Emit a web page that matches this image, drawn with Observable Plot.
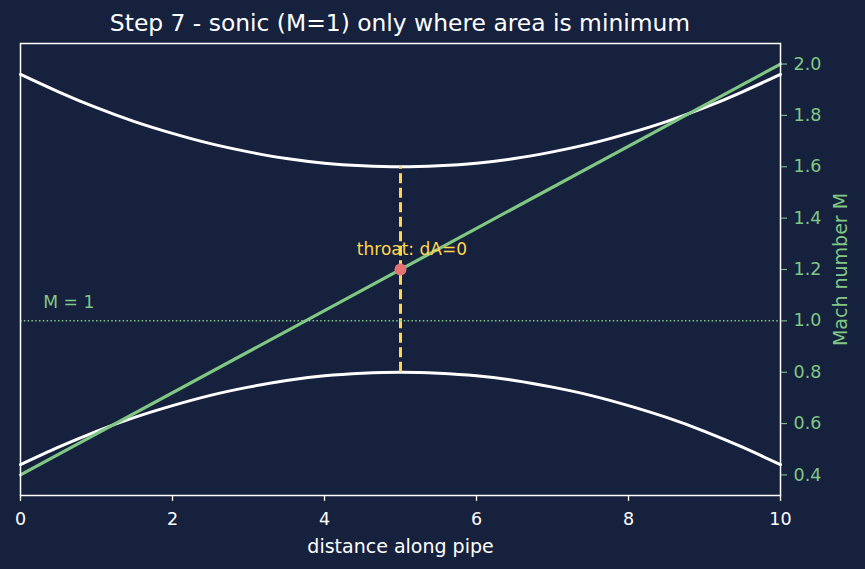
<!DOCTYPE html>
<html>
<head>
<meta charset="utf-8">
<script src="https://cdn.jsdelivr.net/npm/d3@7"></script>
<script src="https://cdn.jsdelivr.net/npm/@observablehq/plot@0.6"></script>
<style>
  html, body { margin: 0; padding: 0; background: #16213e; }
  body { width: 865px; height: 569px; overflow: hidden; font-family: "DejaVu Sans", sans-serif; }
  #title { box-sizing: border-box; height: 37px; padding-top: 10px; padding-left: 20px; width: 780px;
           text-align: center; color: #ffffff; font-size: 23.4px; line-height: 27px; white-space: nowrap; }
</style>
</head>
<body>
<div id="title">Step 7 - sonic (M=1) only where area is minimum</div>
<div id="chart"></div>
<script>
// Data
const xPos = [0, 0.5, 1, 1.5, 2, 2.5, 3, 3.5, 4, 4.5, 5, 5.5, 6, 6.5, 7, 7.5, 8, 8.5, 9, 9.5, 10];
const upperWall = [1.960, 1.892, 1.830, 1.776, 1.730, 1.690, 1.658, 1.632, 1.614, 1.604, 1.600,
                   1.604, 1.614, 1.632, 1.658, 1.690, 1.730, 1.776, 1.830, 1.892, 1.960];
const lowerWall = [0.440, 0.508, 0.570, 0.624, 0.670, 0.710, 0.742, 0.768, 0.786, 0.796, 0.800,
                   0.796, 0.786, 0.768, 0.742, 0.710, 0.670, 0.624, 0.570, 0.508, 0.440];
const machX = [0, 10];
const mach = [0.40, 2.00];
const throatX = 5;
const throatTop = 1.60;
const throatBottom = 0.80;
const throatMach = 1.20;
const sonicM = 1.0;
const xTicks = [0, 2, 4, 6, 8, 10];
const yTicks = [0.4, 0.6, 0.8, 1.0, 1.2, 1.4, 1.6, 1.8, 2.0];
const throatLabel = {x: 5.15, y: 1.255, text: "throat: dA=0"};
const sonicLabel = {x: 0.3, y: 1.05, text: "M = 1"};

const GREEN = "#81c784";
const YELLOW = "#ffd54f";
const RED = "#e57373";

const wallUpper = xPos.map((x, i) => ({x, y: upperWall[i]}));
const wallLower = xPos.map((x, i) => ({x, y: lowerWall[i]}));
const machLine = machX.map((x, i) => ({x, y: mach[i]}));

const chart = Plot.plot({
  width: 865,
  height: 532,
  marginLeft: 20,
  marginRight: 85,
  marginTop: 6,
  marginBottom: 74,
  style: {background: "transparent", color: "white", fontFamily: "DejaVu Sans", fontSize: "17.5px"},
  x: {domain: [0, 10]},
  y: {domain: [0.32, 2.08]},
  marks: [
    Plot.line(wallUpper, {x: "x", y: "y", stroke: "white", strokeWidth: 3, curve: "natural"}),
    Plot.line(wallLower, {x: "x", y: "y", stroke: "white", strokeWidth: 3, curve: "natural"}),
    Plot.ruleX([throatX], {y1: throatBottom, y2: throatTop, stroke: YELLOW, strokeWidth: 3, strokeDasharray: "10,4.5"}),
    Plot.ruleY([sonicM], {stroke: GREEN, strokeWidth: 1.5, strokeDasharray: "1.5,2.3"}),
    Plot.line(machLine, {x: "x", y: "y", stroke: GREEN, strokeWidth: 3.2}),
    Plot.dot([{x: throatX, y: throatMach}], {x: "x", y: "y", r: 6, fill: RED, stroke: "none"}),
    Plot.text([throatLabel], {x: "x", y: "y", text: "text", fill: YELLOW, fontSize: 17, textAnchor: "middle", lineAnchor: "bottom"}),
    Plot.text([sonicLabel], {x: "x", y: "y", text: "text", fill: GREEN, fontSize: 17.2, textAnchor: "start", lineAnchor: "bottom"}),
    Plot.frame({stroke: "white", strokeWidth: 1.5}),
    Plot.axisX({ticks: xTicks, tickSize: 6, tickPadding: 11, stroke: "white", strokeWidth: 1.3, fill: "white", label: null, tickFormat: d3.format("d")}),
    Plot.axisY({anchor: "right", ticks: yTicks, tickSize: 6, tickPadding: 7, stroke: GREEN, strokeWidth: 1.1, fill: GREEN, label: null, tickFormat: d3.format(".1f")}),
    Plot.text(["distance along pipe"], {frameAnchor: "bottom", dy: 57, fontSize: 19, fill: "white", lineAnchor: "bottom"}),
    Plot.text(["Mach number M"], {frameAnchor: "right", dx: 60, rotate: -90, fontSize: 19, fill: GREEN, lineAnchor: "middle", textAnchor: "middle"})
  ]
});
document.getElementById("chart").appendChild(chart);
</script>
</body>
</html>
